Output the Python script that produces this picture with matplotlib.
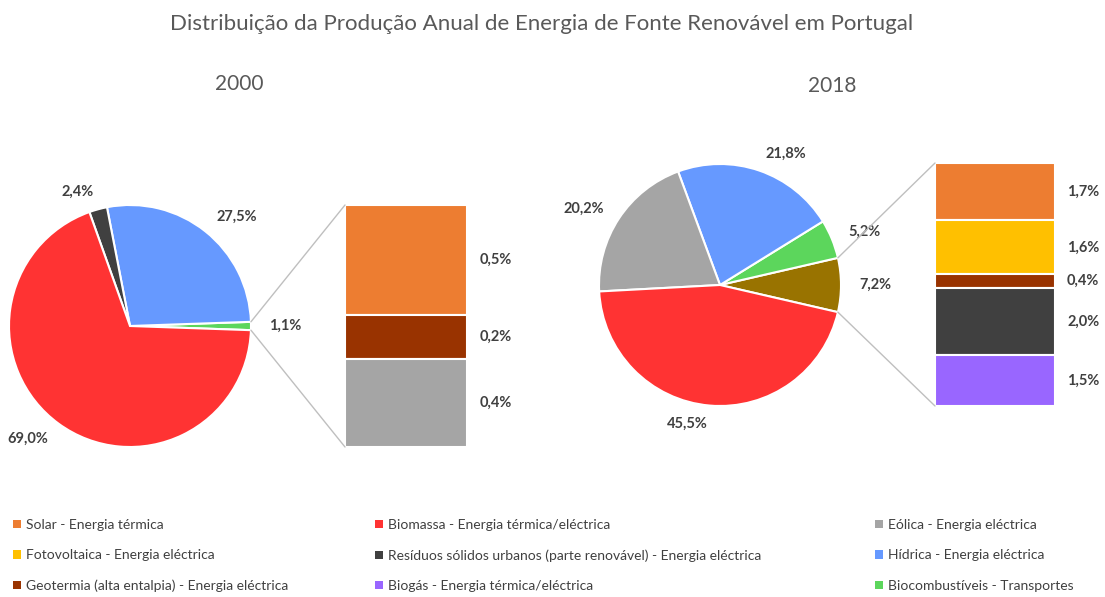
import math
import matplotlib.pyplot as plt
from matplotlib.patches import Patch, ConnectionPatch

plt.rcParams['font.family'] = ['Lato', 'DejaVu Sans']

# -------- DATA --------
title = "Distribuição da Produção Anual de Energia de Fonte Renovável em Portugal"

# pie 2000 (counter-clockwise, starting with the "other" slice on the right)
pie00_labels = ["Outros", "Hídrica", "RSU", "Biomassa"]
pie00_values = [1.1, 27.5, 2.4, 69.0]
pie00_colors = ["#5CD65C", "#6699FF", "#404040", "#FF3333"]

# bar 2000 (top to bottom)
bar00_values = [0.5, 0.2, 0.4]
bar00_colors = ["#ED7D31", "#993300", "#A5A5A5"]

# pie 2018
pie18_labels = ["Outros", "Biocombustíveis", "Hídrica", "Eólica", "Biomassa"]
pie18_values = [7.2, 5.2, 21.8, 20.2, 45.5]
pie18_colors = ["#997300", "#5CD65C", "#6699FF", "#A5A5A5", "#FF3333"]

# bar 2018 (top to bottom)
bar18_values = [1.7, 1.6, 0.4, 2.0, 1.5]
bar18_colors = ["#ED7D31", "#FFC000", "#993300", "#404040", "#9966FF"]

legend_cols = [
    ["Solar - Energia térmica", "Fotovoltaica - Energia eléctrica",
     "Geotermia (alta entalpia) - Energia eléctrica"],
    ["Biomassa - Energia térmica/eléctrica",
     "Resíduos sólidos urbanos (parte renovável) - Energia eléctrica",
     "Biogás - Energia térmica/eléctrica"],
    ["Eólica - Energia eléctrica", "Hídrica - Energia eléctrica",
     "Biocombustíveis - Transportes"],
]
legend_colors = [
    ["#ED7D31", "#FFC000", "#993300"],
    ["#FF3333", "#404040", "#9966FF"],
    ["#A5A5A5", "#6699FF", "#5CD65C"],
]
# ----------------------

W, H = 1105, 597
TXT = "#404040"
LINE = "#BFBFBF"

fig = plt.figure(figsize=(W / 100, H / 100), dpi=100)


def px_axes(x0, y0, x1, y1):
    # axes from pixel box (top-left origin)
    return fig.add_axes([x0 / W, 1 - y1 / H, (x1 - x0) / W, (y1 - y0) / H])


def pct(v):
    return f"{v:.1f}%".replace(".", ",")


def pie_of_bar(pie_box, bar_box, pvals, pcols, bvals, bcols):
    ax = px_axes(*pie_box)
    start = -pvals[0] / sum(pvals) * 360 / 2
    wedges, texts = ax.pie(pvals, colors=pcols, startangle=start, counterclock=True,
                           radius=1, labels=[pct(v) for v in pvals], labeldistance=1.15,
                           wedgeprops=dict(edgecolor="white", linewidth=1.5),
                           textprops=dict(color=TXT, fontsize=10.5, fontweight="bold"))
    ax.set_xlim(-1, 1)
    ax.set_ylim(-1, 1)
    ax.set_aspect("auto")
    for t in texts:
        t.set_clip_on(False)

    bx = px_axes(*bar_box)
    total = sum(bvals)
    bottom = 0
    for v, c in zip(bvals, bcols):
        bx.bar(0.5, v, width=1, bottom=bottom, color=c, edgecolor="white", linewidth=1.5)
        bx.text(1.1, bottom + v / 2, pct(v), ha="left", va="center",
                color=TXT, fontsize=10.5, fontweight="bold")
        bottom += v
    bx.set_xlim(0, 1)
    bx.set_ylim(total, 0)
    bx.axis("off")

    # connector lines from the "other" slice to the bar corners
    half = math.radians(-start)
    for sgn, yb in ((1, 1), (-1, 0)):
        con = ConnectionPatch(xyA=(math.cos(half), sgn * math.sin(half)), coordsA=ax.transData,
                              xyB=(0, yb), coordsB=bx.transAxes,
                              color=LINE, linewidth=1)
        fig.add_artist(con)


pie_of_bar((9, 205, 251, 447), (345, 205, 467, 447),
           pie00_values, pie00_colors, bar00_values, bar00_colors)
pie_of_bar((599, 164, 841, 406), (935, 163, 1055, 406),
           pie18_values, pie18_colors, bar18_values, bar18_colors)

fig.text(542 / W, 1 - 24 / H, title, ha="center", va="center", fontsize=16, color="#595959")
fig.text(239 / W, 1 - 84 / H, "2000", ha="center", va="center", fontsize=15, color="#595959")
fig.text(832 / W, 1 - 86 / H, "2018", ha="center", va="center", fontsize=15, color="#595959")

for xpos, labels, cols in zip((13, 375, 875), legend_cols, legend_colors):
    handles = [Patch(facecolor=c) for c in cols]
    fig.legend(handles, labels, loc="upper left", bbox_to_anchor=(xpos / W, 1 - 519 / H),
               frameon=False, fontsize=10, labelcolor=TXT, handlelength=0.55,
               handleheight=0.55, handletextpad=0.4, labelspacing=1.32,
               borderpad=0, borderaxespad=0)

fig.savefig("out.png", dpi=100, facecolor="white")
